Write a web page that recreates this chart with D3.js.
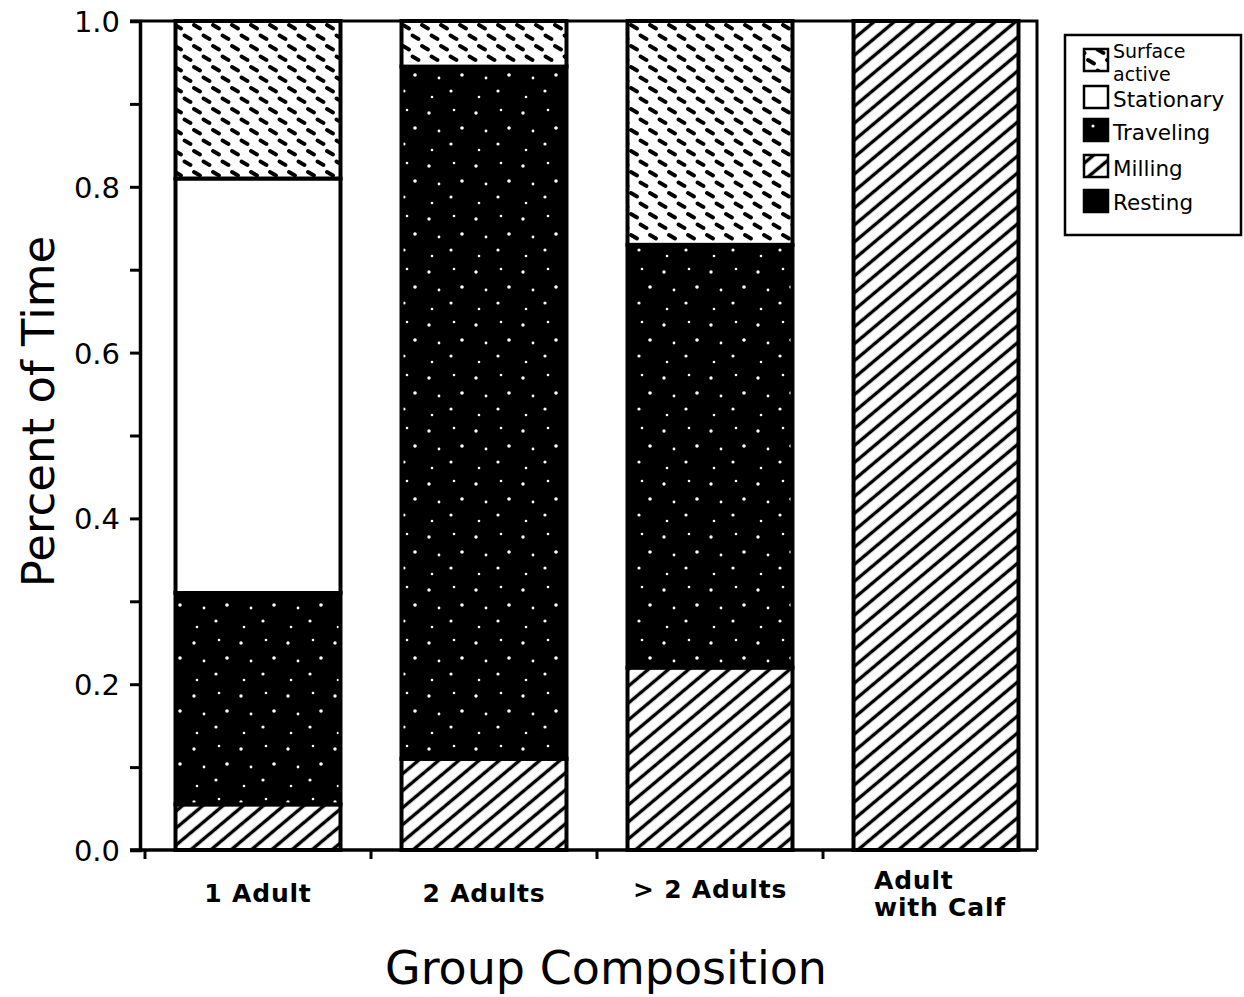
<!DOCTYPE html>
<html>
<head>
<meta charset="utf-8">
<script src="https://cdn.jsdelivr.net/npm/d3@7"></script>
<style>
  html, body { margin: 0; padding: 0; background: #fff; }
  svg { display: block; }
  text { font-family: "DejaVu Sans", "Liberation Sans", sans-serif; fill: #000; }
</style>
</head>
<body>
<svg id="chart" width="1244" height="997"></svg>
<script>
// Group composition categories
const categories = ["1 Adult", "2 Adults", ">2 Adults", "Adult with Calf"];

// Proportion of time spent in each behaviour, per group type
const milling       = [0.055, 0.11, 0.22, 1.00];
const resting       = [0.00,  0.00, 0.00, 0.00];
const traveling     = [0.255, 0.835, 0.51, 0.00];
const stationary    = [0.50,  0.00, 0.00, 0.00];
const surfaceActive = [0.19,  0.055, 0.27, 0.00];

// Stacking order from the baseline up
const seriesNames = ["Milling", "Resting", "Traveling", "Stationary", "Surface active"];
const seriesValues = [milling, resting, traveling, stationary, surfaceActive];

// Legend order (top to bottom)
const legendNames = ["Surface active", "Stationary", "Traveling", "Milling", "Resting"];

const yTicks = [0, 0.2, 0.4, 0.6, 0.8, 1.0];
const yMinorTicks = [0.1, 0.3, 0.5, 0.7, 0.9];

const svg = d3.select("#chart");

// ---- fill patterns ----
const defs = svg.append("defs");

// Surface active: bold slanted dashes in staggered rows
const pSurf = defs.append("pattern")
  .attr("id", "pat-surface").attr("patternUnits", "userSpaceOnUse")
  .attr("width", 19).attr("height", 21);
pSurf.append("rect").attr("width", 19).attr("height", 21).attr("fill", "#fff");
pSurf.append("path")
  .attr("d", "M4,4 L10,7.5 M13.5,14.5 L19.5,18 M-5.5,14.5 L0.5,18")
  .attr("stroke", "#000").attr("stroke-width", 3.8).attr("stroke-linecap", "round").attr("fill", "none");

// Stationary: plain white
const pStat = defs.append("pattern")
  .attr("id", "pat-stationary").attr("patternUnits", "userSpaceOnUse")
  .attr("width", 40).attr("height", 40);
pStat.append("rect").attr("width", 40).attr("height", 40).attr("fill", "#fff");

// Traveling: black with sparse white specks
const pTrav = defs.append("pattern")
  .attr("id", "pat-traveling").attr("patternUnits", "userSpaceOnUse")
  .attr("width", 47).attr("height", 53);
pTrav.append("rect").attr("width", 47).attr("height", 53).attr("fill", "#000");
[[6, 7, 1.7], [31, 4, 1.3], [39, 22, 1.8], [16, 25, 1.4], [28, 38, 1.6], [9, 44, 1.3]]
  .forEach(([cx, cy, r]) => pTrav.append("circle").attr("cx", cx).attr("cy", cy).attr("r", r).attr("fill", "#fff"));

// Milling: rising diagonal hatch
const pMill = defs.append("pattern")
  .attr("id", "pat-milling").attr("patternUnits", "userSpaceOnUse")
  .attr("width", 13).attr("height", 13)
  .attr("patternTransform", "rotate(-40)");
pMill.append("rect").attr("width", 13).attr("height", 13).attr("fill", "#fff");
pMill.append("line").attr("x1", -1).attr("x2", 14).attr("y1", 6.5).attr("y2", 6.5)
  .attr("stroke", "#000").attr("stroke-width", 3.4);

const fills = {
  "Milling": "url(#pat-milling)",
  "Resting": "#000",
  "Traveling": "url(#pat-traveling)",
  "Stationary": "url(#pat-stationary)",
  "Surface active": "url(#pat-surface)"
};

// ---- scales ----
const plotLeft = 140, plotRight = 1037, plotTop = 21, plotBottom = 850;

const x = d3.scaleBand().domain(categories).range([145, 1049])
  .paddingInner(0.27).paddingOuter(0.135);
const y = d3.scaleLinear().domain([0, 1]).range([plotBottom, plotTop]);

// ---- stacked data ----
const table = categories.map((c, i) => {
  const row = { category: c };
  seriesNames.forEach((s, k) => { row[s] = seriesValues[k][i]; });
  return row;
});
const stacked = d3.stack().keys(seriesNames)(table);

const barG = svg.append("g");
stacked.forEach(layer => {
  barG.append("g").selectAll("rect")
    .data(layer.filter(d => d[1] - d[0] > 0))
    .join("rect")
    .attr("x", d => x(d.data.category))
    .attr("width", x.bandwidth())
    .attr("y", d => y(d[1]))
    .attr("height", d => y(d[0]) - y(d[1]))
    .attr("fill", fills[layer.key])
    .attr("stroke", "#000")
    .attr("stroke-width", 4);
});

// ---- frame ----
svg.append("path")
  .attr("d", `M${plotLeft - 10},${plotTop} H${plotRight} V${plotBottom}`)
  .attr("fill", "none").attr("stroke", "#000").attr("stroke-width", 3);

// ---- y axis ----
const yAxis = svg.append("g").attr("transform", `translate(${plotLeft},0)`)
  .call(d3.axisLeft(y).tickValues(yTicks).tickFormat(d3.format(".1f"))
    .tickSize(10).tickPadding(10));
yAxis.select(".domain").attr("stroke-width", 3.5);
yAxis.selectAll(".tick line").attr("stroke-width", 3);
yAxis.selectAll(".tick text")
  .style("font-size", "29px").attr("dy", "0.36em");

const yMinor = svg.append("g").attr("transform", `translate(${plotLeft},0)`)
  .call(d3.axisLeft(y).tickValues(yMinorTicks).tickFormat("").tickSize(10));
yMinor.select(".domain").remove();
yMinor.selectAll(".tick line").attr("stroke-width", 3);

// ---- x axis ----
const boundaries = d3.range(categories.length).map(i => x.step() * i + x.range()[0]);
const xAxisG = svg.append("g");
xAxisG.append("line")
  .attr("x1", plotLeft - 10).attr("x2", plotRight)
  .attr("y1", plotBottom).attr("y2", plotBottom)
  .attr("stroke", "#000").attr("stroke-width", 3.5);
xAxisG.selectAll("line.xt").data(boundaries).join("line")
  .attr("class", "xt")
  .attr("x1", d => d).attr("x2", d => d)
  .attr("y1", plotBottom).attr("y2", plotBottom + 9)
  .attr("stroke", "#000").attr("stroke-width", 3);

// category labels (multi-line labels are left-aligned as a block)
const labelLines = {
  "1 Adult": ["1 Adult"],
  "2 Adults": ["2 Adults"],
  ">2 Adults": ["> 2 Adults"],
  "Adult with Calf": ["Adult", "with Calf"]
};
categories.forEach(c => {
  const lines = labelLines[c];
  const cx = x(c) + x.bandwidth() / 2;
  const t = svg.append("text")
    .style("font-size", "25px").style("font-weight", "bold")
    .style("letter-spacing", "0.8px");
  if (lines.length === 1) {
    t.attr("x", cx).attr("y", c === ">2 Adults" ? 898 : 902)
      .attr("text-anchor", "middle").text(lines[0]);
  } else {
    const spans = lines.map((ln, i) =>
      t.append("tspan").attr("x", 0).attr("y", 889 + i * 27).text(ln));
    const w = d3.max(spans, s => s.node().getComputedTextLength());
    spans.forEach(s => s.attr("x", cx + 4 - w / 2));
  }
});

// ---- axis titles ----
svg.append("text")
  .attr("x", 606).attr("y", 984)
  .attr("text-anchor", "middle")
  .style("font-size", "46px")
  .text("Group Composition");

svg.append("text")
  .attr("transform", `translate(54,${(plotTop + plotBottom) / 2 - 24}) rotate(-90)`)
  .attr("text-anchor", "middle")
  .style("font-size", "45px")
  .text("Percent of Time");

// ---- legend ----
const lg = svg.append("g").attr("transform", "translate(1065,35)");
lg.append("rect").attr("width", 176).attr("height", 200)
  .attr("fill", "#fff").attr("stroke", "#000").attr("stroke-width", 2.5);

const legendRows = {
  "Surface active": { sy: 14, lines: ["Surface", "active"], ty: [23, 46], fs: 19 },
  "Stationary": { sy: 51, lines: ["Stationary"], ty: [72], fs: 21.5 },
  "Traveling": { sy: 84, lines: ["Traveling"], ty: [105], fs: 21.5 },
  "Milling": { sy: 120, lines: ["Milling"], ty: [141], fs: 21.5 },
  "Resting": { sy: 155, lines: ["Resting"], ty: [175], fs: 21.5 }
};
legendNames.forEach(name => {
  const r = legendRows[name];
  lg.append("rect").attr("x", 19).attr("y", r.sy).attr("width", 24).attr("height", 22)
    .attr("fill", fills[name]).attr("stroke", "#000").attr("stroke-width", 2.5);
  r.lines.forEach((ln, i) => {
    lg.append("text").attr("x", 48).attr("y", r.ty[i])
      .style("font-size", r.fs + "px")
      .text(ln);
  });
});
</script>
</body>
</html>
